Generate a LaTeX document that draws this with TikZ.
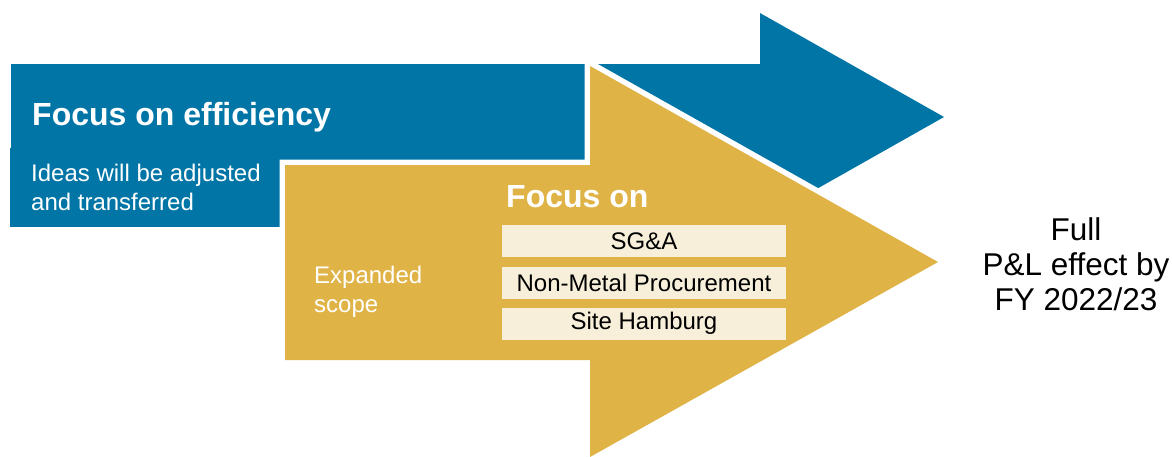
\documentclass[tikz,border=0pt]{standalone}
\usepackage{fontspec}
\setmainfont{Liberation Sans}
\definecolor{ablue}{RGB}{0,117,166}
\definecolor{agold}{RGB}{224,179,70}
\definecolor{acream}{RGB}{247,239,218}
\tikzset{
  headtxt/.style={text=white, inner sep=0pt, anchor=base west, font=\fontsize{32}{38}\selectfont\bfseries},
  subtxt/.style={text=white, inner sep=0pt, anchor=base west, align=left, font=\fontsize{24}{28.5}\selectfont},
  itembox/.style={fill=acream, minimum width=284pt, minimum height=32pt, inner sep=0pt, text=black, font=\fontsize{24}{28}\selectfont},
  sidetxt/.style={text=black, inner sep=0pt, align=center, font=\fontsize{31.5}{35}\selectfont}
}
\begin{document}
\begin{tikzpicture}[x=1pt,y=-1pt]
\useasboundingbox (0,0) rectangle (1172,456);
% blue arrow
\fill[ablue] (11,64) -- (760,64) -- (760,13) -- (944,117) -- (760,221) -- (760,170) -- (11,170) -- cycle;
\fill[ablue] (10,148) rectangle (280,227);
% gold arrow with white outline
\draw[white, line width=11pt, line join=miter] (285,165) -- (590,165) -- (590,66) -- (938,262) -- (590,457) -- (590,360) -- (285,360) -- cycle;
\fill[agold] (285,165) -- (590,165) -- (590,66) -- (938,262) -- (590,457) -- (590,360) -- (285,360) -- cycle;
% texts
\node[headtxt] (eff) at (32,125) {Focus on efficiency};
\node[subtxt] (ideas) at (31,210) {Ideas will be adjusted\\and transferred};
\node[headtxt] (foc) at (506,207) {Focus on};
\node[subtxt] (exp) at (314,312) {Expanded\\scope};
\node[itembox] (sga) at (644,241) {SG\&A};
\node[itembox] (nmp) at (644,283) {Non-Metal Procurement};
\node[itembox] (ham) at (644,323.5) {Site Hamburg};
\node[sidetxt] (full) at (1076,264.5) {Full\\P\&L effect by\\FY 2022/23};
\end{tikzpicture}
\end{document}
